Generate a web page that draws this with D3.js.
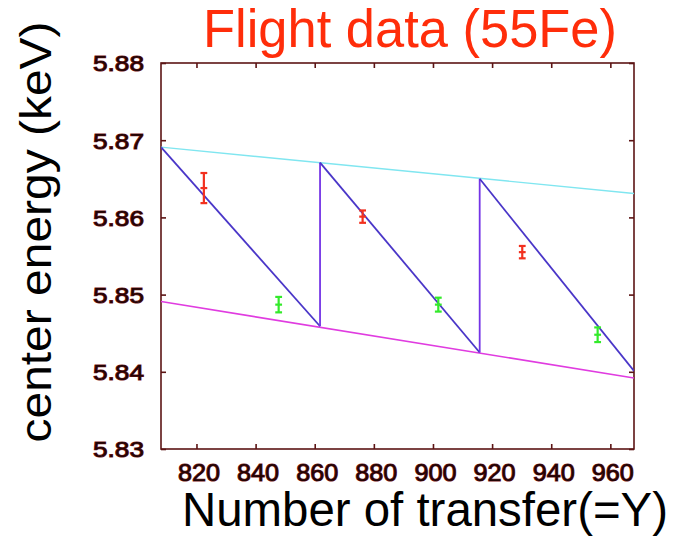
<!DOCTYPE html>
<html>
<head>
<meta charset="utf-8">
<script src="https://cdn.jsdelivr.net/npm/d3@7"></script>
<style>
  html, body { margin: 0; padding: 0; background: #fff; }
  svg { display: block; }
  text { font-family: "Liberation Sans", Arial, Helvetica, sans-serif; }
</style>
</head>
<body>
<div id="chart"></div>
<script>
// Axis ranges and ticks
const xDomain = [808, 968];
const yDomain = [5.83, 5.88];
const xTicks = [820, 840, 860, 880, 900, 920, 940, 960];
const yTicks = [5.83, 5.84, 5.85, 5.86, 5.87, 5.88];

// Measured peak centres with errors (red and green sets)
const redX = [822.5, 876.2, 930.2];
const redY = [5.8638, 5.8601, 5.8555];
const redErr = [0.00195, 0.0008, 0.0008];

const greenX = [847.8, 901.8, 955.7];
const greenY = [5.8487, 5.8487, 5.8448];
const greenErr = [0.0010, 0.0009, 0.00095];

// Upper and lower envelope lines
const upperLine = [[808, 5.8691], [968, 5.8631]];
const lowerLine = [[808, 5.8491], [968, 5.8392]];

// Sawtooth model curve
const sawX = [808, 861.8, 861.8, 915.8, 915.8, 968];
const sawY = [5.8691, 5.8459, 5.8671, 5.8425, 5.8650, 5.8401];

const W = 674, H = 536;
const margin = { left: 161, right: W - 634, top: 63, bottom: H - 449 };

const svg = d3.select("#chart").append("svg")
  .attr("width", W).attr("height", H);

const x = d3.scaleLinear().domain(xDomain).range([margin.left, W - margin.right]);
const y = d3.scaleLinear().domain(yDomain).range([H - margin.bottom, margin.top]);

const frameColor = "#5c1414";
const labelFill = "#220404";
const labelHalo = "#7a1616";

// Frame
svg.append("rect")
  .attr("x", x.range()[0]).attr("y", y.range()[1])
  .attr("width", x.range()[1] - x.range()[0])
  .attr("height", y.range()[0] - y.range()[1])
  .attr("fill", "none").attr("stroke", frameColor).attr("stroke-width", 1.6);

// Axes with inward ticks
const gL = svg.append("g").attr("transform", `translate(${x.range()[0]},0)`)
  .call(d3.axisLeft(y).tickValues(yTicks).tickSizeInner(-5).tickSizeOuter(0).tickPadding(17)
    .tickFormat(d3.format(".2f")));
const gR = svg.append("g").attr("transform", `translate(${x.range()[1]},0)`)
  .call(d3.axisRight(y).tickValues(yTicks).tickSizeInner(-5).tickSizeOuter(0).tickFormat(""));
const gB = svg.append("g").attr("transform", `translate(0,${y.range()[0]})`)
  .call(d3.axisBottom(x).tickValues(xTicks).tickSizeInner(-5).tickSizeOuter(0).tickPadding(16));
const gT = svg.append("g").attr("transform", `translate(0,${y.range()[1]})`)
  .call(d3.axisTop(x).tickValues(xTicks).tickSizeInner(-5).tickSizeOuter(0).tickFormat(""));

[gL, gR, gB, gT].forEach(g => {
  g.select(".domain").remove();
  g.selectAll(".tick line").attr("stroke", frameColor).attr("stroke-width", 1.6);
});

gL.selectAll(".tick text")
  .attr("font-size", 22).attr("fill", labelFill)
  .attr("stroke", labelHalo).attr("stroke-width", 1.1).attr("paint-order", "stroke")
  .attr("textLength", 51).attr("lengthAdjust", "spacingAndGlyphs")
  .attr("dy", "0.36em");

gB.selectAll(".tick text")
  .attr("font-size", 23).attr("fill", labelFill)
  .attr("stroke", labelHalo).attr("stroke-width", 1.1).attr("paint-order", "stroke")
  .attr("textLength", 42).attr("lengthAdjust", "spacingAndGlyphs")
  .attr("dx", 2);

// Plot contents clipped to the frame
svg.append("clipPath").attr("id", "plotClip").append("rect")
  .attr("x", x.range()[0]).attr("y", y.range()[1])
  .attr("width", x.range()[1] - x.range()[0])
  .attr("height", y.range()[0] - y.range()[1]);
const plot = svg.append("g").attr("clip-path", "url(#plotClip)");

const line = d3.line().x(d => x(d[0])).y(d => y(d[1]));

plot.append("path").datum(upperLine).attr("d", line)
  .attr("fill", "none").attr("stroke", "#80e6f0").attr("stroke-width", 1.4);
plot.append("path").datum(lowerLine).attr("d", line)
  .attr("fill", "none").attr("stroke", "#e03ce0").attr("stroke-width", 1.6);

// Sawtooth: descending segments and vertical resets
const sawPts = sawX.map((v, i) => [v, sawY[i]]);
const segs = d3.pairs(sawPts);
plot.selectAll("line.saw").data(segs).join("line")
  .attr("class", "saw")
  .attr("x1", d => x(d[0][0])).attr("y1", d => y(d[0][1]))
  .attr("x2", d => x(d[1][0])).attr("y2", d => y(d[1][1]))
  .attr("stroke", d => d[0][0] === d[1][0] ? "#7434e6" : "#4a36c8")
  .attr("stroke-width", 1.8);

// Error bars with caps and centre marks
function errorBars(xs, ys, es, color) {
  const data = xs.map((v, i) => ({ x: v, y: ys[i], e: es[i] }));
  const g = plot.append("g").attr("stroke", color).attr("stroke-width", 2.2);
  const cap = 3.4;
  g.selectAll("line.v").data(data).join("line")
    .attr("x1", d => x(d.x)).attr("x2", d => x(d.x))
    .attr("y1", d => y(d.y - d.e)).attr("y2", d => y(d.y + d.e));
  g.selectAll("line.t").data(data).join("line")
    .attr("x1", d => x(d.x) - cap).attr("x2", d => x(d.x) + cap)
    .attr("y1", d => y(d.y + d.e)).attr("y2", d => y(d.y + d.e));
  g.selectAll("line.b").data(data).join("line")
    .attr("x1", d => x(d.x) - cap).attr("x2", d => x(d.x) + cap)
    .attr("y1", d => y(d.y - d.e)).attr("y2", d => y(d.y - d.e));
  g.selectAll("line.c").data(data).join("line")
    .attr("x1", d => x(d.x) - cap).attr("x2", d => x(d.x) + cap)
    .attr("y1", d => y(d.y)).attr("y2", d => y(d.y));
}
errorBars(redX, redY, redErr, "#f2301e");
errorBars(greenX, greenY, greenErr, "#33ea2a");

// Titles
svg.append("text")
  .attr("x", 410).attr("y", 47)
  .attr("text-anchor", "middle")
  .attr("font-size", 53).attr("fill", "#ff2d0a")
  .attr("textLength", 414).attr("lengthAdjust", "spacingAndGlyphs")
  .text("Flight data (55Fe)");

svg.append("text")
  .attr("x", 425).attr("y", 526)
  .attr("text-anchor", "middle")
  .attr("font-size", 48).attr("fill", "#000")
  .attr("textLength", 486).attr("lengthAdjust", "spacingAndGlyphs")
  .text("Number of transfer(=Y)");

svg.append("text")
  .attr("transform", "translate(51,232) rotate(-90)")
  .attr("text-anchor", "middle")
  .attr("font-size", 44).attr("fill", "#000")
  .attr("textLength", 421).attr("lengthAdjust", "spacingAndGlyphs")
  .text("center energy (keV)");
</script>
</body>
</html>
